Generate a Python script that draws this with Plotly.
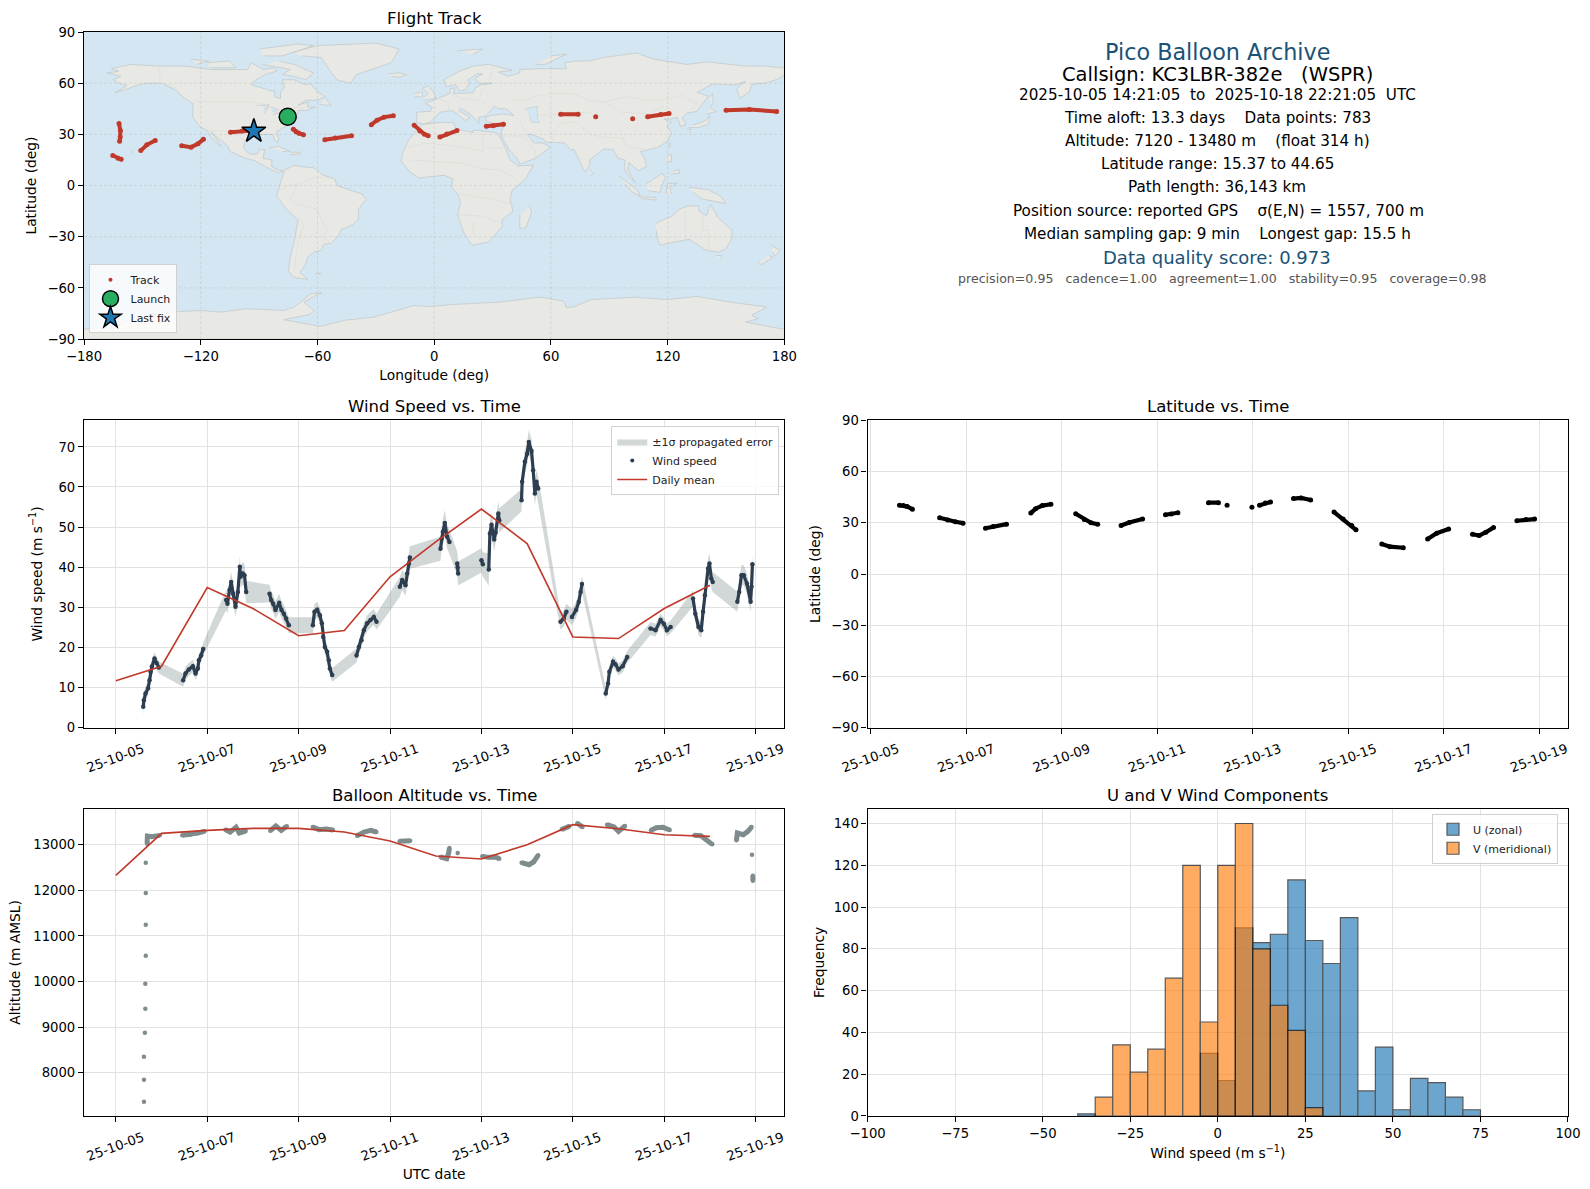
import pandas as pd
import plotly.graph_objects as go
from plotly.subplots import make_subplots

W, H = 1590, 1189
M_L, M_R, M_T, M_B = 83.5, 22, 31.6, 72.5
START = pd.Timestamp("2025-10-05")

RED = "#c0392b"
NAVY = "#2c3e50"
GREY = "#7f8c8d"
TITLE_BLUE = "#1a5276"
OCEAN = "#d4e6f1"
LAND = "#e8e8e4"
COAST = "#c3cacd"
BORDER = "#dcdcd8"
GRID = "#e2e2e2"

# days since 2025-10-05 00:00 for the daily means
mean_day = [0, 1, 2, 3, 4, 5, 6, 7, 8, 9, 10, 11, 12, 13]
wind_mean = [11.7, 15.3, 34.9, 29.7, 22.9, 24.2, 37.6, 46.3, 54.5, 45.9, 22.6, 22.2, 29.7, 35.5]
alt_mean = [12327, 13249, 13314, 13358, 13358, 13278, 13080, 12751, 12686, 13000, 13439, 13351, 13219, 13183]

# wind speed samples
wind_t = [
    0.60, 0.613, 0.649, 0.707, 0.737, 0.759, 0.788, 0.846, 0.89, 0.94,
    1.473, 1.524, 1.597, 1.685, 1.743, 1.794, 1.816, 1.867, 1.911,
    2.414, 2.443, 2.487, 2.524, 2.567, 2.618, 2.67, 2.713, 2.728, 2.779, 2.815, 2.852,
    3.363, 3.399, 3.443, 3.494, 3.574, 3.625, 3.676, 3.727, 3.786,
    4.311, 4.347, 4.406, 4.464, 4.508, 4.537, 4.573, 4.624, 4.66, 4.682, 4.734,
    5.266, 5.317, 5.376, 5.427, 5.5, 5.573, 5.646, 5.704,
    6.215, 6.266, 6.339, 6.376, 6.412, 6.434,
    7.104, 7.126, 7.155, 7.199, 7.25, 7.3,
    7.47, 7.48, 7.49,
    8.0, 8.03, 8.16,
    8.185, 8.22, 8.28, 8.31, 8.37, 8.39,
    8.877, 8.891, 8.95, 9.0, 9.037, 9.096, 9.132, 9.169, 9.205, 9.242,
    9.73, 9.80, 9.86, 9.98, 10.07, 10.13, 10.17, 10.2,
    10.72, 10.77, 10.80, 10.88, 10.93, 11.0, 11.09, 11.19,
    11.70, 11.81, 11.92, 11.99, 12.06, 12.14,
    12.63, 12.68, 12.75, 12.81, 12.85,
    12.89, 12.96, 12.99, 13.03, 13.06,
    13.6, 13.64, 13.69, 13.74, 13.81, 13.89, 13.91, 13.93,
]
wind_v = [
    5.2, 6.8, 8.5, 9.8, 11.8, 13.9, 15.2, 17.2, 16.1, 15,
    11.8, 13.5, 14.5, 15.3, 13.5, 14.7, 16.8, 18, 19.6,
    31.8, 30.9, 34.3, 36.3, 33.4, 30.1, 33.8, 40.1, 37.6, 38.4, 38, 33.8,
    33.4, 31.8, 30.9, 29.3, 31.1, 29.3, 28.4, 27.2, 25.5,
    25.5, 28.9, 29.4, 28, 26, 22.6, 20.1, 18.9, 16.8, 14.7, 13.1,
    18, 20.1, 21.8, 24.3, 26, 26.8, 27.6, 26.4,
    35.1, 36.8, 35.5, 38.4, 40.9, 42.4,
    44.6, 47.1, 48.8, 51, 47.6, 46.3,
    40.9, 39.9, 38.4,
    41.7, 40.7, 39.4,
    48.4, 50.6, 46.9, 48.6, 53.4, 51.7,
    56.7, 61.3, 66.3, 68.3, 71.2, 69, 64.2, 58.4, 61.3, 59.6,
    26.4, 27.2, 28.9, 27.6, 29.3, 31.3, 33.8, 35.8,
    8.5, 11, 13.9, 16.4, 15.8, 14.5, 15.3, 17.6,
    24.7, 24.3, 26.8, 25.9, 24.3, 25.1,
    32.2, 28.4, 25.1, 24.3, 28.9,
    33, 39.7, 40.9, 37.2, 36.3,
    31.4, 33.8, 38, 38, 35.9, 31.4, 35.1, 40.7,
]
wind_sigma = [
    2.2, 2, 1.8, 1.7, 1.6, 1.6, 1.6, 1.6, 1.5, 1.5,
    1.6, 1.6, 1.6, 1.6, 1.6, 1.6, 1.6, 1.6, 1.6,
    2.5, 2.5, 2.5, 2.5, 2.5, 2.5, 2.6, 2.7, 2.7, 2.8, 2.8, 2.8,
    2.2, 2.2, 2.2, 2.2, 2.2, 2.2, 2.2, 2.1, 2.0,
    2, 2, 2, 2, 1.9, 1.9, 1.8, 1.8, 1.8, 1.7, 1.7,
    1.8, 1.8, 1.9, 1.9, 2, 2, 2, 2,
    2.5, 2.5, 2.6, 2.7, 2.7, 2.8,
    3, 3, 3.2, 3.2, 3, 3,
    3, 3, 3,
    3, 3, 4,
    3, 3, 3, 3, 3, 3,
    2.8, 2.8, 2.9, 3, 3, 3, 3, 3, 3, 3,
    2, 2, 2, 2, 2, 2, 2, 2,
    1.5, 1.5, 1.5, 1.5, 1.5, 1.5, 1.5, 1.5,
    1.6, 1.6, 1.6, 1.6, 1.6, 1.6,
    2, 2, 2, 2, 2,
    2.5, 2.5, 2.5, 2.5, 2.5,
    2.5, 2.5, 2.5, 2.5, 2.5, 2.5, 2.5, 2.5,
]

# position samples, track_pass says which daylight pass a sample belongs to
track_pass = [
    1, 1, 1, 1,
    2, 2, 2, 2,
    3, 3, 3,
    4, 4, 4, 4,
    5, 5, 5, 5,
    6, 6, 6,
    7, 7, 7,
    8, 8,
    9,
    10,
    11, 11, 11,
    12, 12, 12,
    13, 13, 13, 13,
    14, 14, 14,
    15, 15, 15,
    16, 16, 16, 16,
    17, 17, 17,
]
track_t = [
    0.60, 0.68, 0.76, 0.87,
    1.44, 1.61, 1.77, 1.93,
    2.40, 2.56, 2.84,
    3.35, 3.45, 3.59, 3.77,
    4.29, 4.47, 4.61, 4.75,
    5.24, 5.41, 5.69,
    6.17, 6.29, 6.43,
    7.07, 7.28,
    7.46,
    7.98,
    8.14, 8.26, 8.37,
    8.85, 9.01, 9.21,
    9.70, 9.89, 10.07, 10.16,
    10.70, 10.87, 11.15,
    11.66, 11.85, 12.10,
    12.60, 12.74, 12.88, 13.04,
    13.53, 13.72, 13.90,
]
track_lat = [
    40.3, 40.2, 39.5, 38.0,
    33.0, 31.6, 30.6, 29.8,
    26.8, 27.8, 29.2,
    35.7, 38.3, 40.1, 40.9,
    35.3, 32.0, 30.0, 29.2,
    28.4, 30.2, 32.2,
    34.7, 35.1, 35.9,
    41.8, 41.8,
    40.3,
    39.1,
    40.3, 41.6, 42.2,
    44.2, 44.6, 43.4,
    36.3, 32.2, 28.4, 25.9,
    17.6, 16.0, 15.4,
    20.5, 23.9, 26.4,
    23.3, 22.5, 24.5, 27.2,
    31.2, 32.0, 32.2,
]
track_lon = [
    -75.5, -75.0, -74.4, -73.8,
    -72.4, -71.0, -69.5, -67.2,
    -56.2, -50.9, -42.5,
    -32.3, -29.4, -25.8, -21.0,
    -10.3, -7.4, -5.0, -3.1,
    2.9, 6.5, 11.7,
    26.8, 30.4, 35.6,
    65.0, 74.0,
    83.0,
    102.0,
    109.7, 116.4, 120.7,
    150.0, 162.0, 176.0,
    -162.0, -161.3, -161.4, -161.7,
    -165.2, -162.5, -160.9,
    -150.8, -147.7, -143.4,
    -129.8, -125.0, -121.4, -118.6,
    -104.7, -98.7, -93.9,
]
launch_lon, launch_lat = [-75.3], [40.3]
last_lon, last_lat = [-92.7], [31.9]

# altitude samples, starts with the ascent dots and ends with the late drop
alt_t = [
    0.615, 0.615, 0.615, 0.635, 0.645, 0.645, 0.654, 0.654, 0.654, 0.654, 0.684,
    0.69, 0.79, 0.89, 0.96,
    1.455, 1.62, 1.79, 1.94,
    2.40, 2.5, 2.63, 2.7, 2.84,
    3.38, 3.5, 3.62, 3.74,
    4.31, 4.45, 4.6, 4.75,
    5.28, 5.43, 5.58, 5.7,
    6.21, 6.31, 6.44,
    7.11, 7.24, 7.28, 7.3,
    7.48,
    8.02, 8.16, 8.31, 8.39,
    8.88, 9.04, 9.14, 9.24,
    9.76, 9.92, 10.1, 10.21,
    10.75, 10.9, 11.0, 11.14,
    11.71, 11.83, 11.97, 12.12,
    12.66, 12.8, 12.92, 13.05,
    13.58,
    13.6, 13.73, 13.83, 13.91,
    13.92, 13.94, 13.94,
]
alt_v = [
    7364, 7846, 8351, 8877, 9404, 9952, 10566, 11246, 11940, 12605, 13022,
    13190, 13175, 13183, 13205,
    13205, 13220, 13256, 13292,
    13329, 13278, 13380, 13256, 13300,
    13307, 13409, 13314, 13402,
    13387, 13329, 13343, 13322,
    13197, 13278, 13314, 13278,
    13073, 13080, 13088,
    12730, 12693, 12803, 12927,
    12817,
    12744, 12722, 12730, 12693,
    12605, 12561, 12620, 12766,
    13336, 13402, 13468, 13387,
    13439, 13387, 13292, 13409,
    13314, 13373, 13380, 13322,
    13205, 13197, 13110, 13007,
    13095,
    13256, 13219, 13292, 13387,
    12781, 12320, 12210,
]

# histogram counts per 5 m/s bin, left bin edges
u_edges = [-40, -5, 0, 5, 10, 15, 20, 25, 30, 35, 40, 45, 50, 55, 60, 65, 70]
u_counts = [1, 30, 17, 90, 83, 87, 113, 84, 73, 95, 12, 33, 3, 18, 16, 9, 3]
v_edges = [-35, -30, -25, -20, -15, -10, -5, 0, 5, 10, 15, 20, 25]
v_counts = [9, 34, 21, 32, 66, 120, 45, 120, 140, 80, 53, 41, 4]

# coastlines as (lon, lat), read by eye
north_america = [(-168, 66), (-162, 67), (-166, 68.5), (-156, 71), (-141, 70), (-128, 70), (-115, 68), (-108, 68),
                 (-96, 68), (-94, 72), (-88, 68), (-82, 69), (-81, 67), (-87, 65), (-93, 61), (-94, 59), (-88, 57),
                 (-82, 55), (-82, 52), (-79, 51), (-79, 55), (-77, 57), (-78, 62), (-72, 62), (-66, 59), (-64, 60),
                 (-60, 55), (-56, 52), (-60, 50), (-66, 50), (-70, 47), (-65, 49), (-65, 46), (-61, 46), (-66, 44),
                 (-70, 44), (-70, 42), (-74, 40.5), (-76, 37), (-76, 35), (-81, 31.5), (-80, 27), (-80.5, 25),
                 (-82, 27), (-83, 30), (-89, 30), (-94, 29.5), (-97, 27), (-98, 22), (-95, 18.5), (-91, 18.5),
                 (-90, 21), (-87, 21), (-88, 16), (-83.5, 15), (-83.5, 11), (-80, 9), (-77.5, 8.5), (-80, 7.5),
                 (-85, 10), (-92, 14.5), (-97, 16), (-105, 20), (-106, 23), (-110, 27), (-112.5, 29), (-114.7, 31.5),
                 (-109.5, 23), (-112, 25), (-115, 29), (-117, 32.5), (-120.5, 34.5), (-124, 40), (-124, 48),
                 (-128, 51), (-133, 56), (-140, 60), (-148, 60), (-152, 59), (-158, 56.5), (-164, 54.5), (-158, 58.5),
                 (-162, 60), (-165, 62), (-161, 64), (-168, 66)]
south_america = [(-77.5, 8.5), (-72, 12), (-68, 11), (-62, 10.5), (-57, 6), (-51, 4), (-50, 0), (-44, -2.5), (-37, -5),
                 (-35, -8), (-39, -14), (-39, -20), (-42, -23), (-48, -26), (-49, -29), (-53, -34), (-57, -34.5),
                 (-58, -38), (-62, -39), (-65, -42), (-66, -46), (-69, -51), (-65, -55), (-72, -54), (-75, -50),
                 (-74, -42), (-72, -33), (-70, -20), (-76, -14), (-81, -6), (-80, -2), (-79, 2), (-77, 8)]
africa = [(-6, 35.8), (3, 37), (10, 37), (11, 33.5), (20, 31), (20, 32.5), (25, 32), (32, 31), (34, 28), (37, 21),
          (39, 15), (43, 11.5), (51, 12), (47, 4), (40, -3), (39, -8), (40.5, -15), (35, -20), (35, -24), (32, -28),
          (28, -33), (20, -35), (18, -33), (15, -27), (12, -17), (13.5, -10), (12, -5), (9, -1), (9.5, 4), (5, 6),
          (-4, 5), (-8, 4.5), (-13, 8.5), (-17, 14.5), (-16, 20), (-13, 27), (-10, 31), (-6, 35.8)]
eurasia = [(-9, 37), (-9, 43), (-2, 43.5), (-1, 46), (-4.5, 48), (2, 51), (8, 54), (8.5, 57), (10.5, 57), (10, 54),
           (14, 54), (20, 54.5), (21, 57), (24, 59), (30, 60), (23, 60), (21, 63), (25, 65.5), (22, 65.5), (17.5, 62),
           (18, 59.5), (16, 56), (13, 55.5), (11, 59), (6, 58), (5, 62), (13, 67), (20, 70), (28, 71), (40, 67.5),
           (33, 66.5), (38, 64), (44, 66), (44, 68), (54, 68.5), (68, 68.5), (67, 72), (73, 73), (80, 73), (87, 75),
           (104, 77.7), (113, 74), (130, 71), (140, 72.5), (160, 70), (170, 70), (180, 69), (180, 65), (177, 62.5),
           (170, 60), (163.5, 59.5), (162, 55), (157, 51), (155.5, 57), (160, 61), (155, 59), (143, 59.5), (135, 54.5),
           (141, 52.5), (135, 43.5), (130, 42.5), (127.5, 39.5), (129.5, 36), (126.5, 34.5), (126, 37), (125, 40),
           (121, 39), (118, 39), (122, 37), (119.5, 35), (122, 31), (120, 26), (115, 22.5), (110, 21), (106, 20),
           (108.5, 15), (109, 11), (105, 8.7), (100, 13.5), (99.5, 9), (103.5, 1.5), (100, 5.5), (98, 9), (98, 15),
           (94.5, 16), (92, 21), (87, 21.5), (80, 15), (80, 12), (77.5, 8), (73, 19), (72, 21), (70, 21), (67, 25),
           (57, 25.5), (56.5, 27), (50, 30), (48, 30), (51, 25), (56, 25), (59.5, 22.5), (52, 16), (44, 12.5),
           (42.5, 16), (38.5, 21), (35, 28), (34.5, 31.5), (36, 36), (30, 36.5), (26.5, 38), (26.5, 40), (29, 41),
           (35, 42), (41, 41), (37, 45), (33, 45), (31, 46.5), (28, 43), (26.5, 40.8), (23, 40), (23, 36.5),
           (19.5, 41), (13.5, 45.5), (12.5, 44), (18.5, 40), (16, 38), (12, 42), (9, 44), (3, 43), (0, 39.5), (-2, 37),
           (-5.5, 36), (-9, 37)]
australia = [(114, -22), (122, -18), (126, -14), (130, -12), (136, -12), (136, -15), (140, -17.5), (142, -11),
             (146, -19), (153, -26), (153, -31), (150, -37), (146, -39), (140, -38), (136, -35), (131, -31.5),
             (124, -33), (116, -35), (115, -32), (114, -26)]
antarctica = [(-180, -84), (-165, -84), (-158, -79), (-150, -76.5), (-135.5, -74.2), (-120, -73.2), (-109.8, -74.2),
              (-101.2, -73.2), (-96, -72.2), (-77.2, -73.2), (-72, -71.2), (-68.7, -68.3), (-63.5, -63.4),
              (-57.5, -62.8), (-62, -65), (-67, -68.3), (-61.8, -73.2), (-63.5, -75.4), (-77.3, -78.6), (-58.4, -82.6),
              (-46.4, -79), (-31, -77.1), (-10.4, -70.3), (-1.9, -70.9), (10, -69.7), (33.2, -68.3), (54.6, -65.4),
              (66.6, -67.7), (68, -71.6), (72, -71), (80.3, -66.9), (102.6, -65.4), (119.7, -66.8), (135.1, -65),
              (152.2, -68.3), (170.9, -71.2), (163.2, -76.1), (166.7, -78), (160, -80), (178, -83.9), (180, -84),
              (180, -90), (-180, -90)]
greenland = [(-73, 78), (-60, 82), (-30, 83.5), (-18, 80), (-22, 72), (-32, 68), (-40, 65), (-43, 60), (-50, 62),
             (-54, 68), (-58, 75), (-68, 76)]
islands = [
    [(-80, 73), (-72, 71), (-62, 66), (-66, 62), (-72, 64), (-78, 65), (-74, 68), (-88, 71)],
    [(-117, 72), (-105, 73), (-102, 69), (-115, 69)],
    [(-90, 80), (-70, 83), (-62, 82), (-78, 76), (-88, 76)],
    [(-125, 74), (-116, 73), (-122, 71)],
    [(-59, 47.5), (-53, 47), (-56, 51.5)],
    [(-24, 65.5), (-18, 66), (-14, 65), (-18, 63.5), (-22, 64)],
    [(-85, 22), (-80, 23), (-74, 20), (-78, 20)],
    [(-74, 19.5), (-69, 19.5), (-68.5, 18.5), (-74, 18)],
    [(-61, -51.5), (-58, -51.5), (-59, -52.3)],
    [(49, -12), (50, -16), (47, -25), (44, -25), (44, -17)],
    [(-5.5, 50), (1, 51), (0, 54), (-3, 58.5), (-6, 57), (-3, 54), (-5, 52)],
    [(-10, 52), (-6, 52), (-6, 55), (-10, 54)],
    [(131, 34), (136, 34), (141, 36), (141.5, 41), (139.5, 38), (133, 35.5)],
    [(140, 42), (145, 43.3), (142, 45.5)],
    [(130, 33), (132, 33), (131, 31)],
    [(142, 46), (143.5, 49), (143, 54), (142, 52)],
    [(120, 23), (121.5, 25), (121, 22)],
    [(120, 18), (122, 18), (122, 14), (120, 14)],
    [(122, 7), (126, 7), (126, 9.5), (123, 8.5)],
    [(95, 5.5), (104, -2), (106, -6), (102, -4), (98, 1)],
    [(105, -6.5), (114, -7), (114, -8.5), (106, -7.5)],
    [(109, 1), (117, 7), (119, 5), (117, 0), (116, -4), (110, -3)],
    [(119, -5), (120, 1), (125, 1.5), (121, -1), (122, -5)],
    [(131, -1), (141, -2.5), (147, -6), (150, -10.5), (143, -9), (138, -8), (133, -4)],
    [(80, 9.5), (82, 7), (80.5, 6)],
    [(145, -41), (148, -41), (147, -43.5)],
    [(173, -35), (178, -38), (175, -41.5), (174, -39)],
    [(172, -41), (174, -42), (168, -46.5), (167, -45)],
    [(52, 71), (57, 71), (68, 77), (60, 76)],
    [(12, 79), (25, 80), (20, 77)],
    [(-156, 20), (-155, 19.5), (-155.5, 19)],
]
lakes = [
    [(47, 45), (53, 46.5), (53, 40), (54, 37), (50, 37), (49, 41)],
    [(-92, 46.8), (-85, 47.5), (-85, 46.5), (-88, 46.5)],
    [(-87.5, 42), (-86, 44), (-85, 46), (-87.5, 44.5)],
    [(-84, 46), (-80, 44.5), (-82, 43), (-83.5, 44)],
    [(-83, 41.5), (-79, 42.8), (-79, 42.2)],
    [(-79.5, 43.5), (-76, 44), (-76.5, 43.3)],
]
borders = [
    [(-123, 49), (-95, 49), (-89, 48), (-83, 46), (-82, 43), (-79, 43), (-75, 45), (-70, 46), (-67, 45)],
    [(-141, 70), (-141, 60), (-135, 59), (-130, 55)],
    [(-117, 32.5), (-106, 31.7), (-101, 29.5), (-97, 26)],
    [(-51, 4), (-60, 5), (-70, 1), (-74, -8), (-70, -11), (-60, -14), (-58, -20), (-55, -26), (-57, -30), (-53, -34)],
    [(-70, -18), (-67, -23), (-70, -33), (-72, -50)],
    [(-80, -3), (-75, 0), (-70, 1)],
    [(-17, 21), (-5, 25), (12, 23), (25, 20), (25, 32)],
    [(25, 22), (37, 22)],
    [(-12, 15), (15, 13), (24, 10), (34, 9), (42, 4)],
    [(13, -5), (30, -8), (40, -11)],
    [(12, -17), (25, -18), (35, -22)],
    [(20, -28), (20, -22)],
    [(24, 52), (24, 55), (28, 60), (30, 69)],
    [(40, 50), (47, 50), (51, 52), (61, 54), (71, 54), (80, 50), (87, 49), (98, 52), (110, 50), (118, 50), (127, 53),
     (135, 48), (131, 43)],
    [(87, 49), (96, 43), (110, 42), (118, 47)],
    [(74, 36), (80, 30), (88, 28), (97, 28), (98, 24), (102, 22), (108, 21.5)],
    [(61, 25), (61, 31), (66, 37), (74, 37)],
    [(44, 38), (46, 33), (48, 30)],
    [(35, 29), (46, 29), (52, 20), (52, 16)],
    [(54, 41), (66, 42), (74, 43), (80, 43)],
    [(2, 51), (8, 48), (7, 44)],
    [(8, 54), (14, 51), (24, 50), (30, 45)],
    [(129, -15), (129, -31.5)],
    [(138, -17), (138, -26), (141, -26), (141, -38)],
]

lon_ticks = [-180, -120, -60, 0, 60, 120, 180]
lat_ticks = [-90, -60, -30, 0, 30, 60, 90]
hist_ticks = [-100, -75, -50, -25, 0, 25, 50, 75, 100]

info_lines = [
    ("Pico Balloon Archive", 51.3, 22.3, TITLE_BLUE, 1217),
    ("Callsign: KC3LBR-382e   (WSPR)", 73.8, 19.5, "black", 1217),
    ("2025-10-05 14:21:05  to  2025-10-18 22:21:05  UTC", 95.1, 15.2, "black", 1217),
    ("Time aloft: 13.3 days    Data points: 783", 118.1, 15.2, "black", 1217),
    ("Altitude: 7120 - 13480 m    (float 314 h)", 141, 15.2, "black", 1217),
    ("Latitude range: 15.37 to 44.65", 164.1, 15.2, "black", 1217),
    ("Path length: 36,143 km", 187.1, 15.2, "black", 1217),
    ("Position source: reported GPS    σ(E,N) = 1557, 700 m", 210.3, 15.2, "black", 1218),
    ("Median sampling gap: 9 min    Longest gap: 15.5 h", 233.3, 15.2, "black", 1217),
    ("Data quality score: 0.973", 257.5, 18, TITLE_BLUE, 1217),
    ("precision=0.95   cadence=1.00   agreement=1.00   stability=0.95   coverage=0.98", 278.3, 12.6, "#555555", 1221.5),
]


def to_date(days):
    return (START + pd.to_timedelta(days, unit="D")).isoformat()


def with_gaps(t, y, max_gap=0.15, max_jump=None):
    """Break the series into passes so a stroke only joins neighbouring samples."""
    out_t, out_y = [], []
    for i in range(len(t)):
        if i and (t[i] - t[i - 1] > max_gap or (max_jump and abs(y[i] - y[i - 1]) > max_jump)):
            out_t.append(None)
            out_y.append(None)
        out_t.append(t[i])
        out_y.append(y[i])
    return out_t, out_y


def by_pass(x, y):
    """Same idea for the position samples, split on track_pass."""
    out_x, out_y = [], []
    for i in range(len(x)):
        if i and track_pass[i] != track_pass[i - 1]:
            out_x.append(None)
            out_y.append(None)
        out_x.append(x[i])
        out_y.append(y[i])
    return out_x, out_y


def dates(t):
    return [None if d is None else to_date(d) for d in t]


def unzip_polys(polys):
    xs, ys = [], []
    for poly in polys:
        xs += [p[0] for p in poly] + [None]
        ys += [p[1] for p in poly] + [None]
    return xs, ys


def px_x(px):
    return (px - M_L) / (W - M_L - M_R)


def px_y(py):
    return 1 - (py - M_T) / (H - M_T - M_B)


fig = make_subplots(
    rows=3,
    cols=2,
    specs=[[{}, None], [{}, {}], [{}, {}]],
    subplot_titles=("Flight Track", "Wind Speed vs. Time", "Latitude vs. Time",
                    "Balloon Altitude vs. Time", "U and V Wind Components"),
    horizontal_spacing=83.2 / (W - M_L - M_R),
    vertical_spacing=81.4 / (H - M_T - M_B),
)
fig.update_annotations(font=dict(size=16.5, color="black"), yshift=2)

# map panel
land_x, land_y = unzip_polys([north_america, south_america, africa, eurasia, australia, antarctica, greenland] + islands)
fig.add_trace(go.Scatter(x=land_x, y=land_y, mode="lines", fill="toself", fillcolor=LAND,
                         line=dict(color=COAST, width=0.8), showlegend=False), row=1, col=1)
lake_x, lake_y = unzip_polys(lakes)
fig.add_trace(go.Scatter(x=lake_x, y=lake_y, mode="lines", fill="toself", fillcolor=OCEAN,
                         line=dict(color=COAST, width=0.6), showlegend=False), row=1, col=1)
border_x, border_y = unzip_polys(borders)
fig.add_trace(go.Scatter(x=border_x, y=border_y, mode="lines", line=dict(color=BORDER, width=0.7),
                         showlegend=False), row=1, col=1)
grid_x, grid_y = unzip_polys([[(v, -90), (v, 90)] for v in lon_ticks[1:-1]] + [[(-180, v), (180, v)] for v in lat_ticks[1:-1]])
fig.add_trace(go.Scatter(x=grid_x, y=grid_y, mode="lines", line=dict(color="rgba(90,90,90,0.15)", width=0.8, dash="3px,2px"),
                         showlegend=False), row=1, col=1)
seg_lon, seg_lat = by_pass(track_lon, track_lat)
fig.add_trace(go.Scatter(x=seg_lon, y=seg_lat, mode="lines+markers", line=dict(color=RED, width=4),
                         marker=dict(color=RED, size=5), showlegend=False), row=1, col=1)
fig.add_trace(go.Scatter(x=[None], y=[None], mode="markers", name="Track", marker=dict(color=RED, size=4),
                         legend="legend"), row=1, col=1)
fig.add_trace(go.Scatter(x=launch_lon, y=launch_lat, mode="markers", name="Launch",
                         marker=dict(color="#27ae60", size=17, symbol="circle", line=dict(color="black", width=1.5)),
                         legend="legend"), row=1, col=1)
fig.add_trace(go.Scatter(x=last_lon, y=last_lat, mode="markers", name="Last fix",
                         marker=dict(color="#1f77b4", size=18, symbol="star", line=dict(color="black", width=1.5)),
                         legend="legend"), row=1, col=1)

# wind panel
band_x = dates(wind_t + wind_t[::-1])
band_y = [v + s for v, s in zip(wind_v, wind_sigma)] + [v - s for v, s in zip(wind_v, wind_sigma)][::-1]
fig.add_trace(go.Scatter(x=band_x, y=band_y, mode="lines", fill="toself", fillcolor="rgba(127,140,141,0.35)",
                         line=dict(width=0), name="±1σ propagated error", legend="legend2"), row=2, col=1)
wt, wv = with_gaps(wind_t, wind_v, max_gap=0.12)
fig.add_trace(go.Scatter(x=dates(wt), y=wv, mode="lines+markers", line=dict(color=NAVY, width=3.2),
                         marker=dict(color=NAVY, size=4.5), showlegend=False), row=2, col=1)
fig.add_trace(go.Scatter(x=[None], y=[None], mode="markers", name="Wind speed", marker=dict(color=NAVY, size=4),
                         legend="legend2"), row=2, col=1)
fig.add_trace(go.Scatter(x=dates(mean_day), y=wind_mean, mode="lines", name="Daily mean",
                         line=dict(color=RED, width=1.6), legend="legend2"), row=2, col=1)

# latitude panel
lt, lv = by_pass(track_t, track_lat)
fig.add_trace(go.Scatter(x=dates(lt), y=lv, mode="lines+markers", line=dict(color="black", width=4.2),
                         marker=dict(color="black", size=5), showlegend=False), row=2, col=2)

# altitude panel
at, av = with_gaps(alt_t, alt_v, max_gap=0.175, max_jump=300)
fig.add_trace(go.Scatter(x=dates(at), y=av, mode="lines+markers", line=dict(color=GREY, width=5),
                         marker=dict(color=GREY, size=4.5), showlegend=False), row=3, col=1)
fig.add_trace(go.Scatter(x=dates(mean_day), y=alt_mean, mode="lines", line=dict(color=RED, width=1.6),
                         showlegend=False), row=3, col=1)

# histogram panel
fig.add_trace(go.Bar(x=[e + 2.5 for e in u_edges], y=u_counts, width=5, name="U (zonal)", opacity=0.65,
                     marker=dict(color="#1f77b4", line=dict(color="black", width=1.2)), legend="legend3"), row=3, col=2)
fig.add_trace(go.Bar(x=[e + 2.5 for e in v_edges], y=v_counts, width=5, name="V (meridional)", opacity=0.65,
                     marker=dict(color="#ff7f0e", line=dict(color="black", width=1.2)), legend="legend3"), row=3, col=2)

axis_style = dict(showline=True, mirror=True, linecolor="black", linewidth=1.2, ticks="outside", ticklen=5, tickwidth=1,
                  tickcolor="black", zeroline=False, gridcolor=GRID, gridwidth=1, tickfont=dict(size=13.2, color="black"),
                  title_font=dict(size=13.8, color="black"), automargin=False)
fig.update_xaxes(**axis_style)
fig.update_yaxes(**axis_style)

date_style = dict(type="date", tick0="2025-10-05", dtick=2 * 86400000, tickformat="%y-%m-%d", tickangle=-20,
                  ticklabelshift=27, ticklabelstandoff=3)
fig.update_xaxes(range=[-180, 180], tickvals=lon_ticks, showgrid=False, tickangle=0, title_text="Longitude (deg)", title_standoff=7, row=1, col=1)
fig.update_yaxes(range=[-90, 90], tickvals=lat_ticks, showgrid=False, title_text="Latitude (deg)", title_standoff=7, row=1, col=1)
fig.update_xaxes(range=[to_date(-0.697), to_date(14.63)], **date_style, row=2, col=1)
fig.update_yaxes(range=[0, 76.6], dtick=10, title_text="Wind speed (m s<sup>−1</sup>)", title_standoff=12, row=2, col=1)
fig.update_xaxes(range=[to_date(-0.069), to_date(14.6)], **date_style, row=2, col=2)
fig.update_yaxes(range=[-90, 90], tickvals=lat_ticks, title_text="Latitude (deg)", title_standoff=7, row=2, col=2)
fig.update_xaxes(range=[to_date(-0.697), to_date(14.63)], **date_style, title_text="UTC date", title_standoff=6, row=3, col=1)
fig.update_yaxes(range=[7050, 13785], dtick=1000, tickformat="d", title_text="Altitude (m AMSL)", title_standoff=9, row=3, col=1)
fig.update_xaxes(range=[-100, 100], tickvals=hist_ticks, tickangle=0, title_text="Wind speed (m s<sup>−1</sup>)", title_standoff=8, row=3, col=2)
fig.update_yaxes(range=[0, 147], dtick=20, title_text="Frequency", title_standoff=5, row=3, col=2)

for text, py, size, color, cx in info_lines:
    fig.add_annotation(x=px_x(cx), y=px_y(py), xref="paper", yref="paper", text=text, showarrow=False,
                       xanchor="center", yanchor="middle", font=dict(size=size, color=color))

legend_style = dict(bgcolor="rgba(255,255,255,0.8)", bordercolor="#d0d0d0", borderwidth=1, font=dict(size=11, color="#222222"),
                    tracegroupgap=0)
fig.update_layout(
    width=W,
    height=H,
    margin=dict(l=M_L, r=M_R, t=M_T, b=M_B, autoexpand=False),
    font=dict(family="DejaVu Sans", color="black"),
    paper_bgcolor="white",
    plot_bgcolor="white",
    barmode="overlay",
    hovermode=False,
    showlegend=True,
    legend=dict(x=px_x(89), y=px_y(333), xanchor="left", yanchor="bottom", **legend_style),
    legend2=dict(x=px_x(779), y=px_y(426), xanchor="right", yanchor="top", **legend_style),
    legend3=dict(x=px_x(1558), y=px_y(814), xanchor="right", yanchor="top", **legend_style),
)
fig.add_shape(type="rect", xref="x", yref="y", x0=-180, x1=180, y0=-90, y1=90, layer="below",
              fillcolor=OCEAN, line_width=0)

fig.write_html("out.html", config={"displayModeBar": False},
               post_script="document.body.style.margin='0';document.body.style.overflow='hidden';")
